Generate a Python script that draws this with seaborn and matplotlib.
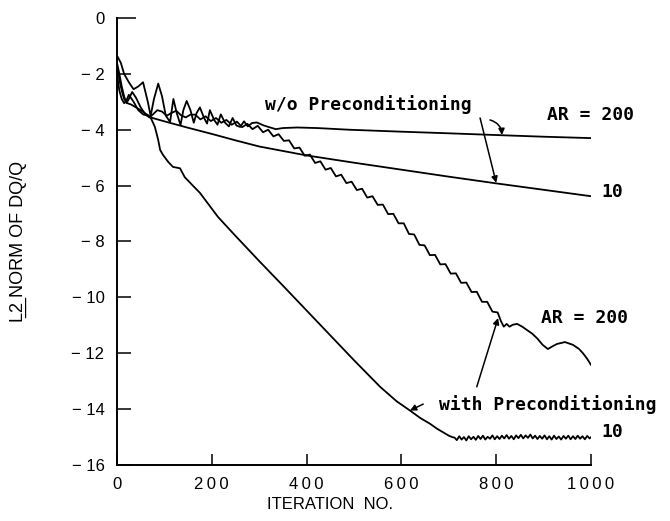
import matplotlib
matplotlib.use("Agg")
import matplotlib.pyplot as plt
import seaborn as sns
from matplotlib.ticker import FixedLocator, FixedFormatter

# ---- convergence histories: L2 norm of DQ/Q (log scale exponent) vs iteration ----

# without preconditioning, aspect ratio 200
wo_ar200_iter = [0, 8, 15, 25, 35, 45, 55, 65, 71, 78, 87, 95, 103, 112, 119, 126, 134, 140,
                 147, 155, 162, 168, 175, 183, 190, 196, 205, 212, 219, 228, 236, 244, 252, 260,
                 268, 276, 285, 295, 310, 335, 350, 380, 422, 490, 600, 703, 800, 900, 1000]
wo_ar200_norm = [-1.35, -1.6, -2.0, -2.3, -2.55, -2.45, -2.3, -3.0, -3.5, -2.9, -2.35, -2.8,
                 -3.5, -3.72, -2.9, -3.4, -3.83, -3.3, -2.97, -3.3, -3.75, -3.4, -3.2, -3.55,
                 -3.78, -3.3, -3.65, -3.82, -3.45, -3.75, -3.88, -3.58, -3.85, -3.9, -3.7,
                 -3.88, -3.76, -3.74, -3.85, -3.98, -3.94, -3.92, -3.94, -4.0, -4.07, -4.13,
                 -4.19, -4.25, -4.3]

# without preconditioning, aspect ratio 10
wo_ar10_iter = [0, 5, 10, 15, 22, 30, 40, 50, 60, 75, 100, 150, 200, 250, 300, 350, 400,
                500, 600, 700, 800, 900, 1000]
wo_ar10_norm = [-1.7, -2.2, -2.6, -2.9, -3.05, -3.1, -3.2, -3.3, -3.42, -3.58, -3.7, -3.93,
                -4.15, -4.38, -4.6, -4.76, -4.92, -5.18, -5.43, -5.68, -5.92, -6.15, -6.38]

# with preconditioning, aspect ratio 200
w_ar200_iter = [0, 5, 10, 15, 20, 25, 32, 40, 50, 60, 68, 76, 85, 95, 105, 115, 125, 135,
                145, 155,
                165, 176, 187, 198, 209, 220, 231, 242, 253, 264, 275, 286, 297, 308, 319,
                330, 341, 352, 363, 374, 385, 396, 407, 418, 429, 440, 451, 462, 473, 484,
                495, 506, 517, 528, 539, 550, 561, 572, 583, 594, 605, 616, 627, 638, 649,
                660, 671, 682, 693, 704, 715, 726, 737, 748, 759, 770, 781, 792, 803,
                810, 816, 822, 828, 835, 844, 855, 865, 876, 886, 898, 909, 918, 928, 945,
                962, 975, 983, 992, 1000]
w_ar200_norm = [-1.6, -2.0, -2.45, -2.8, -3.05, -2.9, -2.65, -2.85, -3.2, -3.45, -3.55, -3.45,
                -3.3, -3.35, -3.5, -3.4, -3.32, -3.48, -3.56, -3.46,
                -3.46, -3.63, -3.52, -3.69, -3.58, -3.75, -3.65, -3.82, -3.71, -3.91, -3.79,
                -3.98, -3.86, -4.09, -4.00, -4.24, -4.16, -4.40, -4.38, -4.67, -4.64, -4.93,
                -4.89, -5.19, -5.13, -5.43, -5.37, -5.67, -5.61, -5.91, -5.86, -6.16, -6.11,
                -6.43, -6.38, -6.69, -6.68, -7.02, -7.01, -7.35, -7.35, -7.73, -7.75, -8.12,
                -8.14, -8.49, -8.48, -8.82, -8.81, -9.15, -9.14, -9.48, -9.47, -9.81, -9.80,
                -10.16, -10.16, -10.51, -10.54,
                -10.85, -11.05, -10.95, -11.05, -10.98, -10.95, -11.05, -11.17, -11.3, -11.46,
                -11.7, -11.85, -11.76, -11.67, -11.6, -11.7, -11.85, -12.0, -12.2, -12.42]

# with preconditioning, aspect ratio 10 (settles into a noisy floor near -15)
w_ar10_iter = [0, 5, 10, 15, 20, 25, 35, 45, 55, 65, 72, 80, 87, 91, 97, 108, 118, 133, 143,
               160, 175, 190, 213, 250, 300, 350, 400, 450, 500, 555, 590, 618, 640, 660, 675,
               688, 700, 707] + list(range(712, 1000, 5)) + [1000]
w_ar10_norm = [-2.0, -2.6, -2.9, -3.05, -2.95, -2.75, -3.0, -3.3, -3.45, -3.5, -3.6, -3.9,
               -4.37, -4.72, -4.9, -5.15, -5.33, -5.38, -5.7, -6.0, -6.26, -6.6, -7.12, -7.8,
               -8.7, -9.58, -10.47, -11.36, -12.25, -13.2, -13.72, -14.05, -14.32, -14.52,
               -14.7, -14.83, -14.95, -15.0,
               -15.02, -15.11, -14.97, -15.09, -15.0, -15.12, -14.97, -15.08, -14.99, -15.1,
               -14.96, -15.07, -14.95, -15.09, -14.99, -15.06, -14.94, -15.08, -14.97, -15.07,
               -14.95, -15.05, -14.93, -15.06, -14.96, -15.08, -14.94, -15.04, -14.92, -15.05,
               -14.94, -15.03, -14.91, -15.05, -14.95, -15.07, -14.96, -15.06, -14.94, -15.08,
               -14.97, -15.09, -14.95, -15.07, -14.98, -15.09, -14.96, -15.06, -14.95, -15.08,
               -14.97, -15.07, -14.95, -15.06, -14.97, -15.08, -14.96, -15.05,
               -15.0]

x_ticks = [0, 200, 400, 600, 800, 1000]
x_tick_labels = ["0", "200", "400", "600", "800", "1000"]
y_ticks = [-16, -14, -12, -10, -8, -6, -4, -2, 0]
y_tick_labels = ["−16", "−14", "−12", "−10", "−8", "−6", "−4", "−2", "0"]

x_label = "ITERATION  NO."
y_label = "L\u03322\u0332 NORM OF DQ/Q"

# ---- drawing ----
sns.set_theme(style="ticks")
plt.rcParams["font.family"] = ["Liberation Sans", "DejaVu Sans"]

fig = plt.figure(figsize=(6.7, 5.21), dpi=100)
ax = fig.add_axes([0.1746, 0.1075, 0.7075, 0.858])

line_kw = dict(color="black", linewidth=1.3, estimator=None, sort=False, ax=ax)
sns.lineplot(x=wo_ar200_iter, y=wo_ar200_norm, **line_kw)
sns.lineplot(x=wo_ar10_iter, y=wo_ar10_norm, **line_kw)
sns.lineplot(x=w_ar200_iter, y=w_ar200_norm, **line_kw)
sns.lineplot(x=w_ar10_iter, y=w_ar10_norm, **line_kw)

ax.set_xlim(0, 1000)
ax.set_ylim(-16, 0)

for side in ("top", "right"):
    ax.spines[side].set_visible(False)
for side in ("left", "bottom"):
    ax.spines[side].set_linewidth(1.4)
    ax.spines[side].set_color("black")

thin = "\u2009"
ax.xaxis.set_major_locator(FixedLocator(x_ticks))
ax.xaxis.set_major_formatter(FixedFormatter([thin.join(s) for s in x_tick_labels]))
ax.yaxis.set_major_locator(FixedLocator(y_ticks))
ax.yaxis.set_major_formatter(FixedFormatter([s.replace("−", "− ") for s in y_tick_labels]))

ax.tick_params(axis="both", direction="in", length=8, width=1.1, color="black",
               labelsize=12, labelcolor="black")
ax.tick_params(axis="x", pad=9)
ax.tick_params(axis="y", pad=9, length=10)
ax.yaxis.get_major_ticks()[-1].tick1line.set_markersize(14)

ax.set_xlabel(x_label, fontsize=12, color="black")
ax.set_ylabel(y_label, fontsize=13, color="black")
ax.xaxis.set_label_coords(0.449, -0.072)
ax.yaxis.set_label_coords(-0.19, 0.5)

# ---- labels and leader arrows ----
mono = dict(family=["DejaVu Sans Mono"], fontsize=13, fontweight="bold",
            color="black", va="center", ha="center")
arrow = dict(arrowstyle="-|>", color="black", lw=1.1, mutation_scale=9,
             shrinkA=0, shrinkB=0)

ax.text(530, -3.08, "w/o Preconditioning", **mono)
ax.text(998, -3.47, "AR = 200", clip_on=False, **mono)
ax.text(1044, -6.23, "10", clip_on=False, **mono)
ax.text(987, -10.74, "AR = 200", clip_on=False, **mono)
ax.text(909, -13.82, "with Preconditioning", clip_on=False, **mono)
ax.text(1044, -14.82, "10", clip_on=False, **mono)

ax.annotate("", xy=(800, -5.9), xytext=(766, -3.58), arrowprops=arrow)
ax.annotate("", xy=(812, -4.19), xytext=(787, -3.65),
            arrowprops=dict(arrow, connectionstyle="arc3,rad=-0.35"))
ax.annotate("", xy=(618, -14.05), xytext=(646, -13.82), arrowprops=arrow)
ax.annotate("", xy=(804, -10.74), xytext=(759, -13.2), arrowprops=arrow)

fig.savefig("out.png", dpi=100, facecolor="white")
